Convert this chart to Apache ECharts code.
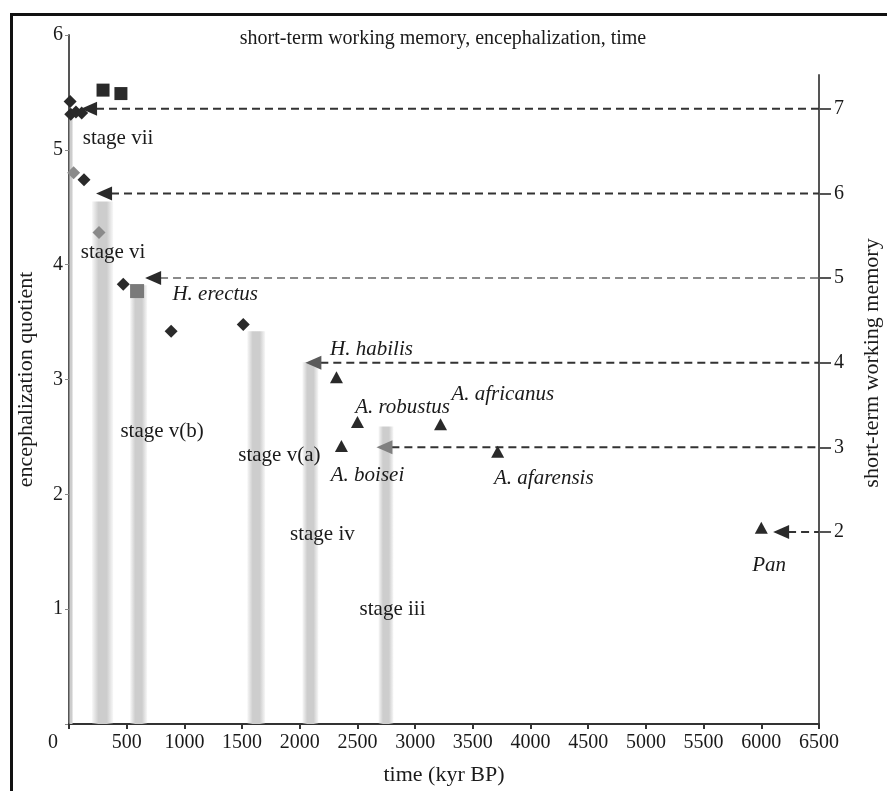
<!DOCTYPE html>
<html><head><meta charset="utf-8">
<script src="https://cdn.jsdelivr.net/npm/echarts@6/dist/echarts.min.js"></script>
<style>html,body{margin:0;padding:0;background:#fff}#c{width:887px;height:791px}</style>
</head><body><div id="c"></div>
<script>
// ---- data (time in kyr BP, EQ = encephalization quotient) ----
const xTicks = [0,500,1000,1500,2000,2500,3000,3500,4000,4500,5000,5500,6000,6500];
const eqTicks = [1,2,3,4,5,6];
const memTicks = [2,3,4,5,6,7];

const darkDiamonds = [[10,5.42],[15,5.31],[60,5.33],[110,5.32],[130,4.74],[470,3.83],[885,3.42],[1510,3.48]];
const grayDiamonds = [[40,4.80],[260,4.28]];
const darkSquares = [[295,5.52],[450,5.49]];
const graySquares = [[590,3.77]];
const triangles = [[2318,3.02],[2500,2.63],[3220,2.61],[2361,2.42],[3715,2.37],[6000,1.71]];

// stage bands: [start kyr, end kyr, top EQ]
const stageBands = [[0,35,5.30],[200,382,4.55],[530,677,3.82],[1545,1700,3.42],[2023,2161,3.15],[2682,2812,2.59]];

// memory levels: arrow position (kyr) and short-term working memory value
const memArrowX = [174,304,729,2118,2734,6172];
const memLevels = [7,6,5,4,3,2];
const memArrowColor = ['#2a2a2a','#2a2a2a','#2a2a2a','#5a5a5a','#808080','#2a2a2a'];
const memLineColor = ['#333','#333','#8a8a8a','#333','#333','#333'];

// annotations: [time, EQ, text]
const stageLabels = [[425,5.10,'stage vii'],[382,4.11,'stage vi'],[807,2.55,'stage v(b)'],[1823,2.34,'stage v(a)'],[2196,1.65,'stage iv'],[2804,1.00,'stage iii']];
const taxonLabels = [[1267,3.74,'H. erectus'],[2622,3.26,'H. habilis'],[2891,2.76,'A. robustus'],[3759,2.87,'A. africanus'],[2587,2.16,'A. boisei'],[4115,2.14,'A. afarensis'],[6068,1.38,'Pan']];

const FONT = 'Liberation Serif';
const chart = echarts.init(document.getElementById('c'));

const series = [];
series.push({
  type:'custom', xAxisIndex:0, yAxisIndex:0, z:1, silent:true,
  data: stageBands,
  renderItem(params, api){
    const p0 = api.coord([api.value(0), api.value(2)]);
    const p1 = api.coord([api.value(1), 0]);
    return {type:'rect', shape:{x:p0[0], y:p0[1], width:p1[0]-p0[0], height:p1[1]-p0[1]},
      style:{fill:new echarts.graphic.LinearGradient(0,0,1,0,[
        {offset:0,color:'rgba(205,205,205,0.15)'},{offset:0.3,color:'#cdcdcd'},
        {offset:0.7,color:'#cdcdcd'},{offset:1,color:'rgba(205,205,205,0.15)'}])}};
  }
});
memLevels.forEach((m,i)=>{
  series.push({type:'line', xAxisIndex:1, yAxisIndex:1, z:2, silent:true, symbol:'none',
    data:[[memArrowX[i]+60,m],[6500,m]],
    lineStyle:{color:memLineColor[i], width:2, type:[8,5]}});
  series.push({type:'scatter', xAxisIndex:1, yAxisIndex:1, z:4, silent:true,
    symbol:'triangle', symbolRotate:90, symbolSize:[14,16],
    data:[[memArrowX[i],m]], itemStyle:{color:memArrowColor[i], opacity:1}});
});
series.push({type:'scatter', z:5, symbol:'diamond', symbolSize:[13,13], data:grayDiamonds, itemStyle:{color:'#8a8a8a', opacity:1}});
series.push({type:'scatter', z:5, symbol:'diamond', symbolSize:[13,13], data:darkDiamonds, itemStyle:{color:'#2a2a2a', opacity:1}});
series.push({type:'scatter', z:5, symbol:'rect', symbolSize:13, data:darkSquares, itemStyle:{color:'#2a2a2a', opacity:1}});
series.push({type:'scatter', z:5, symbol:'rect', symbolSize:14, data:graySquares, itemStyle:{color:'#7a7a7a', opacity:1}});
series.push({type:'scatter', z:5, symbol:'triangle', symbolSize:[13,12], data:triangles, itemStyle:{color:'#2a2a2a', opacity:1}});
series.push({type:'scatter', z:6, silent:true, symbol:'circle', symbolSize:1,
  itemStyle:{color:'rgba(0,0,0,0)', opacity:1},
  data: stageLabels.map(d=>({value:[d[0],d[1]], name:d[2]})),
  label:{show:true, position:'inside', formatter:p=>p.name, fontFamily:FONT, fontSize:21, color:'#1a1a1a'}});
series.push({type:'scatter', z:6, silent:true, symbol:'circle', symbolSize:1,
  itemStyle:{color:'rgba(0,0,0,0)', opacity:1},
  data: taxonLabels.map(d=>({value:[d[0],d[1]], name:d[2]})),
  label:{show:true, position:'inside', formatter:p=>p.name, fontFamily:FONT, fontSize:21, fontStyle:'italic', color:'#1a1a1a'}});

chart.setOption({
  animation:false,
  backgroundColor:'#fff',
  title:{text:'short-term working memory, encephalization, time', left:438, top:24, textAlign:'center',
    textStyle:{fontFamily:FONT, fontSize:20, fontWeight:'normal', color:'#1a1a1a'}},
  graphic:[
    {type:'rect', left:9, top:12, shape:{width:900, height:800}, z:100, silent:true,
      style:{fill:'none', stroke:'#111', lineWidth:3}},
    {type:'text', x:872, y:363, rotation:Math.PI/2, silent:true,
      style:{text:'short-term working memory', fontFamily:FONT, fontSize:22, fill:'#1a1a1a', align:'center', verticalAlign:'middle'}}
  ],
  grid:[{left:69, right:68, top:35, bottom:64},{left:69, right:68, top:75, bottom:64}],
  xAxis:[{type:'value', gridIndex:0, min:0, max:6500, interval:500,
      name:'time (kyr BP)', nameLocation:'middle', nameGap:40,
      nameTextStyle:{fontFamily:FONT, fontSize:22, color:'#1a1a1a'},
      axisLine:{lineStyle:{color:'#333', width:2}},
      axisTick:{show:true, length:5, lineStyle:{color:'#333', width:2}},
      splitLine:{show:false},
      axisLabel:{fontFamily:FONT, fontSize:20, color:'#1a1a1a', margin:9,
        formatter:v=> v===0 ? '{z|0}' : String(v),
        rich:{z:{fontFamily:FONT, fontSize:20, color:'#1a1a1a', padding:[0,32,0,0]}}}},
    {type:'value', gridIndex:1, min:0, max:6500, show:false}],
  yAxis:[{type:'value', gridIndex:0, min:0, max:6, interval:1,
      name:'encephalization quotient', nameLocation:'middle', nameGap:32, nameRotate:90,
      nameTextStyle:{fontFamily:FONT, fontSize:22, color:'#1a1a1a'},
      axisLine:{show:true, onZero:false, lineStyle:{color:'#555', width:2}},
      axisTick:{show:true, length:4, lineStyle:{color:'#888'}},
      splitLine:{show:false},
      axisLabel:{fontFamily:FONT, fontSize:20, color:'#1a1a1a', margin:6, formatter:v=> v===0?'':String(v)}},
    {type:'value', gridIndex:1, position:'right', min:-0.305, max:7.40,
      axisLine:{show:true, onZero:false, lineStyle:{color:'#555', width:2}},
      axisTick:{show:true, length:12, customValues:memTicks, lineStyle:{color:'#555', width:2}},
      splitLine:{show:false},
      axisLabel:{fontFamily:FONT, fontSize:20, color:'#1a1a1a', margin:15, customValues:memTicks}}],
  series
});
</script></body></html>
